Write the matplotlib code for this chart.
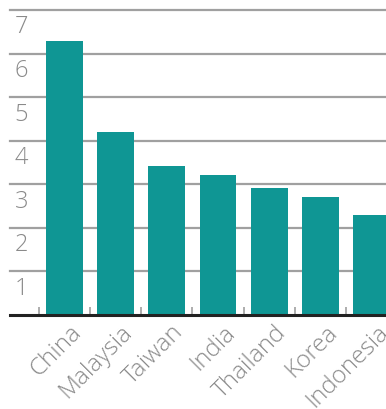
import matplotlib.pyplot as plt
from matplotlib.transforms import ScaledTranslation

# data
countries = ["China", "Malaysia", "Taiwan", "India", "Thailand", "Korea", "Indonesia"]
values = [6.3, 4.2, 3.42, 3.21, 2.91, 2.7, 2.3]
yticks = [1, 2, 3, 4, 5, 6, 7]

bar_color = "#0f9694"
grid_color = "#a0a0a0"
label_color = "#8a8a8a"

plt.rcParams['font.family'] = ['Open Sans', 'DejaVu Sans']

fig = plt.figure(figsize=(3.86, 4.09), dpi=100)
ax = fig.add_axes([10 / 386, 1 - 315 / 409, 1 - 10 / 386, (315 - 10) / 409])

x = list(range(len(countries)))
ax.bar(x, values, width=0.72, color=bar_color, zorder=3)

ax.set_xlim(-1.06, 6.28)
ax.set_ylim(0, 7)

# horizontal grid lines and labels sitting just under each line
for v in yticks:
    ax.axhline(v, color=grid_color, lw=1.6, zorder=1, clip_on=False)
    ax.text(0.012, v - 0.4, str(v), transform=ax.get_yaxis_transform(),
            fontsize=17, fontweight="light", color=label_color, ha="left", va="center")

ax.set_yticks([])
for s in ["top", "right", "left"]:
    ax.spines[s].set_visible(False)
ax.spines["bottom"].set_color("#222222")
ax.spines["bottom"].set_linewidth(2.2)
ax.spines["bottom"].set_zorder(4)

ax.set_xticks(x)
ax.set_xticklabels(countries, rotation=45, ha="right", va="top", rotation_mode="anchor",
                   fontsize=17.5, fontweight="light", color=label_color)
ax.tick_params(axis="x", which="major", length=0, pad=4)
ax.set_xticks([i - 0.5 for i in x], minor=True)
ax.tick_params(axis="x", which="minor", direction="in", length=6, width=1.2, color=grid_color)

offset = ScaledTranslation(5 / 100, 0, fig.dpi_scale_trans)
for lab in ax.get_xticklabels():
    lab.set_transform(lab.get_transform() + offset)

fig.savefig("out.png", dpi=100)
